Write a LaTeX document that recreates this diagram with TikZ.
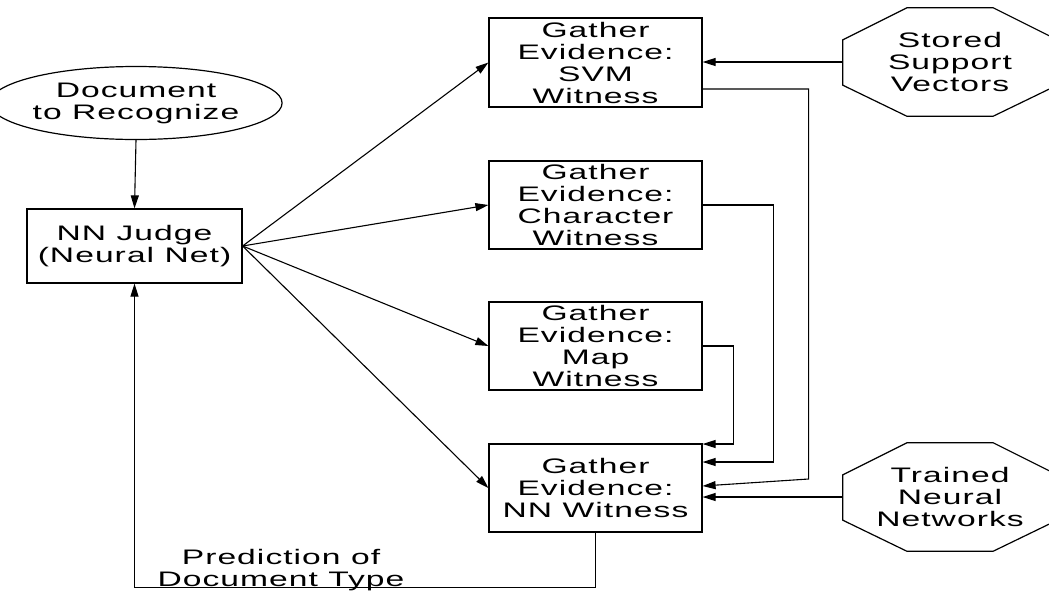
\documentclass[tikz,border=0pt]{standalone}
\usepackage{fontspec}
\setmainfont{Liberation Sans}[FakeStretch=1.6,LetterSpace=5]
\usetikzlibrary{shapes.geometric,arrows.meta,calc}
\tikzset{
  lbl/.style={align=center,inner sep=0pt,font=\fontsize{21}{22}\selectfont},
  box/.style={lbl,draw,line width=1.2pt,minimum width=213pt,minimum height=88pt},
  oval/.style={lbl,draw,ellipse,line width=1.2pt,minimum width=252pt,minimum height=73pt},
  octo/.style={lbl,rectangle,minimum width=214pt,minimum height=108pt},
  arr/.style={line width=1.1pt,-{Triangle[length=13pt,width=8pt]}},
  conn/.style={line width=1.1pt}
}
\newcommand\myoct[1]{\draw[line width=1.2pt] ([xshift=64pt]#1.north west) -- ([xshift=-64pt]#1.north east) -- ([yshift=-32pt]#1.north east) -- ([yshift=31pt]#1.south east) -- ([xshift=-64pt]#1.south east) -- ([xshift=64pt]#1.south west) -- ([yshift=31pt]#1.south west) -- ([yshift=-32pt]#1.north west) -- cycle;}
\begin{document}
\begin{tikzpicture}[x=1pt,y=-1pt]
\useasboundingbox (0,0) rectangle (1049,590);
\node[oval] (doc) at (136,103) {Document\\to Recognize};
\node[box,minimum width=215pt,minimum height=74pt] (judge) at (134.5,246) {NN Judge\\(Neural Net)};
\node[box,minimum height=89pt] (svm) at (595.5,62.5) {Gather\\Evidence:\\SVM\\Witness};
\node[box] (chr) at (595.5,205) {Gather\\Evidence:\\Character\\Witness};
\node[box] (map) at (595.5,346) {Gather\\Evidence:\\Map\\Witness};
\node[box] (nnw) at (595.5,488) {Gather\\Evidence:\\NN Witness};
\node[octo] (stored) at (950,62) {Stored\\Support\\Vectors};
\myoct{stored}
\node[octo] (trained) at (950,497) {Trained\\Neural\\Networks};
\myoct{trained}
\node[lbl] (pred) at (281,570) {Prediction of\\Document Type};
% connectors
\draw[arr] (doc.south) -- (judge.north);
\draw[arr] (judge.east) -- (svm.west);
\draw[arr] (judge.east) -- (chr.west);
\draw[arr] (judge.east) -- (map.west);
\draw[arr] (judge.east) -- (nnw.west);
\draw[arr] (stored.west) -- (stored.west -| svm.east);
\draw[arr] ([yshift=-26.5pt]svm.east) -- ++(106,0) -- ++(0,390) -- ([yshift=2pt]nnw.east);
\draw[arr] (chr.east) -- ++(71,0) |- ([yshift=26pt]nnw.east);
\draw[arr] (map.east) -- ++(31,0) |- ([yshift=44pt]nnw.east);
\draw[arr] (trained.west) -- (trained.west -| nnw.east);
\draw[arr] (nnw.south) -- ++(0,55) -| (judge.south);
\end{tikzpicture}
\end{document}
